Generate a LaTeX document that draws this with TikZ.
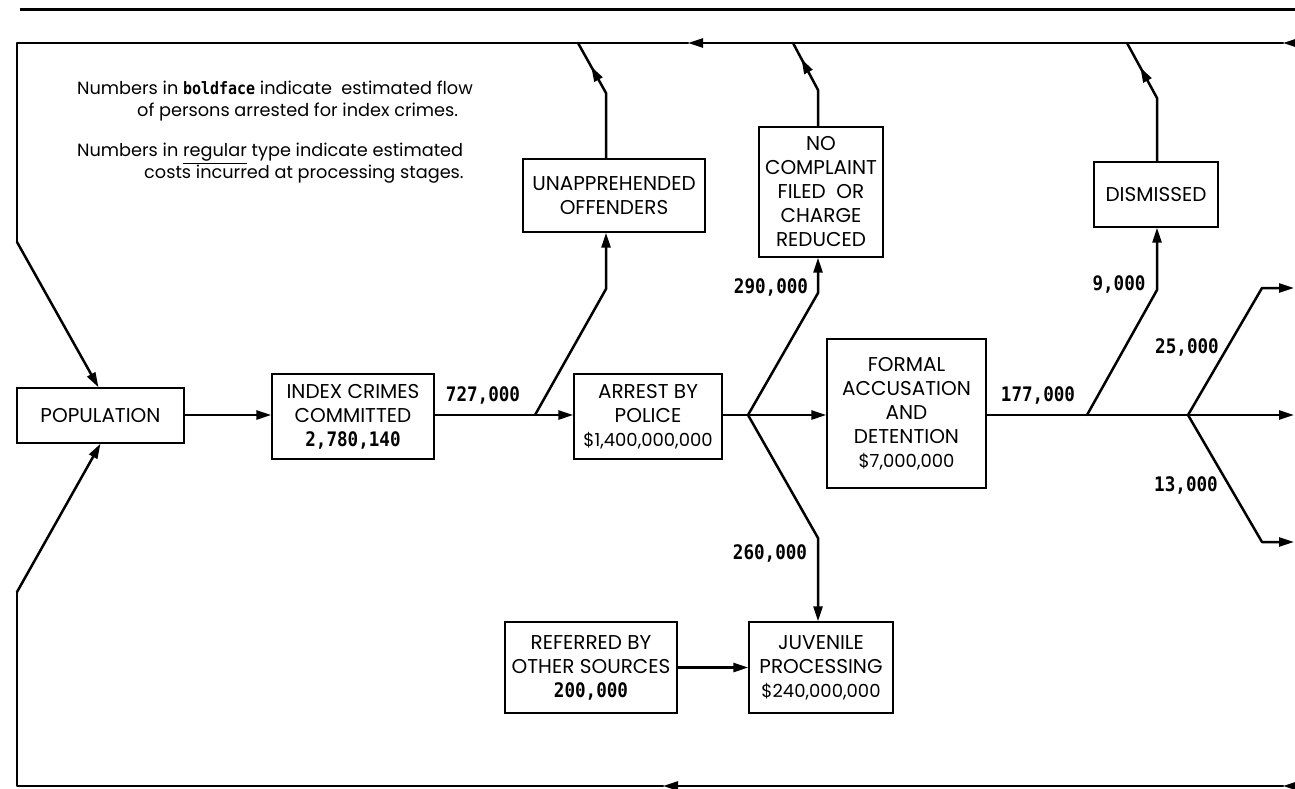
\documentclass[tikz,border=0pt]{standalone}
\usepackage{fontspec}
\setmainfont{Poppins}
\newfontfamily\numfont{DejaVu Sans Mono}[FakeStretch=0.88]
\usetikzlibrary{arrows.meta,decorations.markings,calc}

\newcommand{\bnum}[1]{{\numfont\bfseries #1}}
\newcommand{\cost}[1]{{\fontsize{18}{24}\selectfont #1}}

\tikzset{
  x=1pt, y=-1pt,
  >={Triangle[length=15pt,width=9pt]},
  box/.style={draw, line width=1.3pt, align=center, inner sep=0pt,
              font=\fontsize{20}{24}\selectfont},
  flow/.style={line width=2.5pt, line cap=round, line join=round},
  num/.style={inner sep=0pt, font=\numfont\bfseries\fontsize{20}{24}\selectfont},
  legend/.style={inner sep=0pt, font=\fontsize{17.7}{20}\selectfont},
  midarr/.style={postaction={decorate},
    decoration={markings, mark=at position #1 with {\arrow{>}}}},
  midarr/.default=0.75
}

\begin{document}
\begin{tikzpicture}
\useasboundingbox (0,0) rectangle (1295,789);

% heading rule
\draw[line width=3pt] (20,10) -- (1295,10);

% legend
\node[legend, anchor=base west] (lg1) at (77,95)
  {Numbers in {\numfont\bfseries\fontsize{17}{20}\selectfont boldface} indicate\ \ estimated flow};
\node[legend, anchor=base west] (lg2) at (137,117) {of persons arrested for index crimes.};
\node[legend, anchor=base west] (lg3) at (77,157) {Numbers in \underline{regular} type indicate estimated};
\node[legend, anchor=base west] (lg4) at (144,178) {costs incurred at processing stages.};

% stages
\node[box, minimum width=167pt, minimum height=55pt] (pop) at (100.5,415.5) {POPULATION};
\node[box, minimum width=162pt, minimum height=85pt] (idx) at (353,416.5)
  {INDEX CRIMES\\COMMITTED\\\bnum{2,780,140}};
\node[box, minimum width=182pt, minimum height=73pt] (unap) at (614,195.5)
  {UNAPPREHENDED\\OFFENDERS};
\node[box, minimum width=148pt, minimum height=85pt] (arr) at (648,416.5)
  {ARREST BY\\POLICE\\\cost{\$1,400,000,000}};
\node[box, minimum width=124pt, minimum height=130pt] (nc) at (821,192)
  {NO\\COMPLAINT\\FILED\ \ OR\\CHARGE\\REDUCED};
\node[box, minimum width=159pt, minimum height=149pt] (fa) at (906.5,413.5)
  {FORMAL\\ACCUSATION\\AND\\DETENTION\\\cost{\$7,000,000}};
\node[box, minimum width=124pt, minimum height=65pt] (dis) at (1156,194.5) {DISMISSED};
\node[box, minimum width=172pt, minimum height=91pt] (ref) at (591,667.5)
  {REFERRED BY\\OTHER SOURCES\\\bnum{200,000}};
\node[box, minimum width=144pt, minimum height=91pt] (juv) at (821,667.5)
  {JUVENILE\\PROCESSING\\\cost{\$240,000,000}};

% flow figures
\node[num] (n727) at (483,395) {727,000};
\node[num] (n290) at (771,287) {290,000};
\node[num] (n260) at (770,553) {260,000};
\node[num] (n177) at (1038,395) {177,000};
\node[num] (n9) at (1119,284) {9,000};
\node[num] (n25) at (1187,347) {25,000};
\node[num] (n13) at (1186,485) {13,000};

% branch points and bends
\coordinate (b1) at (535,415);
\coordinate (b2) at (748,415);
\coordinate (b3) at (1087,415);
\coordinate (b4) at (1188,415);
\coordinate (k1) at (606,289);
\coordinate (k2) at (818,293);
\coordinate (k3) at (818,538);
\coordinate (k4) at (1157,290);
\coordinate (k5) at (1262,288);
\coordinate (k6) at (1262,542);
\coordinate (u1) at (606,93);
\coordinate (u2) at (818,90);
\coordinate (u3) at (1157,98);
\coordinate (t1) at (578,43);
\coordinate (t2) at (793,43);
\coordinate (t3) at (1127,43);
\coordinate (e1) at (1294,415);
\coordinate (e2) at (1294,288);
\coordinate (e3) at (1294,542);

% return loop, top
\coordinate (te) at (1298,43);
\coordinate (tr) at (1283,43);
\coordinate (ta) at (688,43);
\coordinate (tl) at (17,43);
\coordinate (lk1) at (17,242);
% return loop, bottom
\coordinate (be) at (1298,786);
\coordinate (br) at (1283,786);
\coordinate (ba) at (663,786);
\coordinate (bl) at (17,786);
\coordinate (lk2) at (17,592);

\draw[flow,->] (te) -- (tr);
\draw[flow,->] (tr) -- (ta);
\draw[flow] (ta) -- (tl) -- (lk1);
\draw[flow,->] (lk1) -- ($(pop.north)+(-2,0)$);

\draw[flow,->] (be) -- (br);
\draw[flow,->] (br) -- (ba);
\draw[flow] (ba) -- (bl) -- (lk2);
\draw[flow,->] (lk2) -- (pop.south);

% main line
\draw[flow,->] (pop.east |- b1) -- (idx.west |- b1);
\draw[flow] (idx.east |- b1) -- (b1);
\draw[flow,->] (b1) -- (arr.west |- b1);
\draw[flow] (arr.east |- b2) -- (b2);
\draw[flow,->] (b2) -- (fa.west |- b2);
\draw[flow] (fa.east |- b3) -- (b3) -- (b4);
\draw[flow,->] (b4) -- (e1);

% side branches
\draw[flow,->] (b1) -- (k1) -- (k1 |- unap.south);
\draw[flow,->] (b2) -- (k2) -- (k2 |- nc.south);
\draw[flow,->] (b2) -- (k3) -- (k3 |- juv.north);
\draw[flow,->] (b3) -- (k4) -- (k4 |- dis.south);
\draw[flow,->] (b4) -- (k5) -- (e2);
\draw[flow,->] (b4) -- (k6) -- (e3);
\draw[flow,->] (ref) -- (juv);

% exits to the return loop
\draw[flow,midarr=0.78] (u1 |- unap.north) -- (u1) -- (t1);
\draw[flow,midarr=0.80] (u2 |- nc.north) -- (u2) -- (t2);
\draw[flow,midarr=0.78] (u3 |- dis.north) -- (u3) -- (t3);
\end{tikzpicture}
\end{document}
